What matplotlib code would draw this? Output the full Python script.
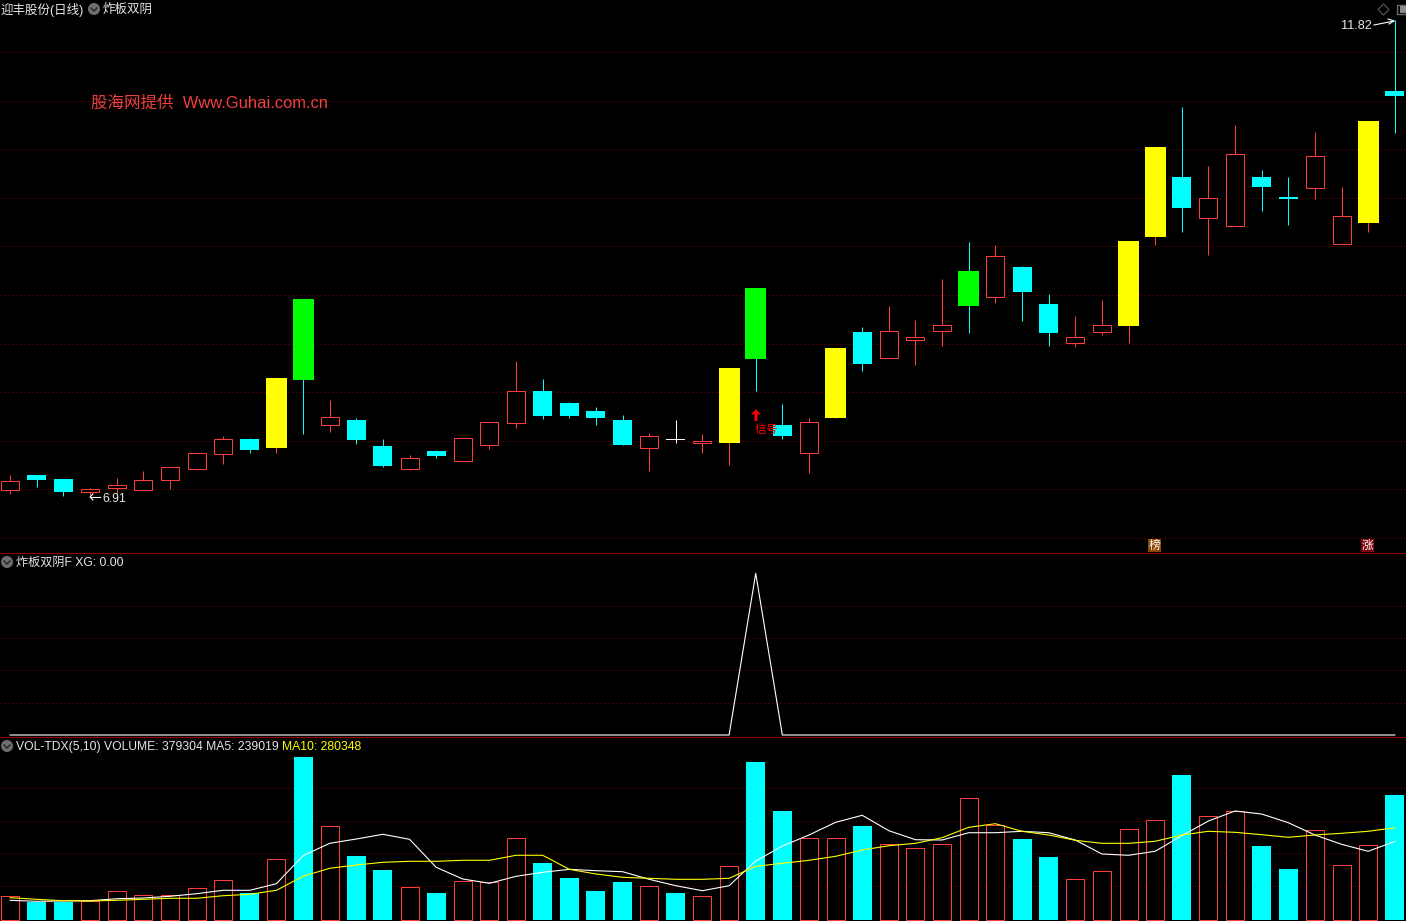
import matplotlib
matplotlib.use("Agg")
import matplotlib.pyplot as plt
from matplotlib.patches import Circle, Polygon, Rectangle

W, H = 1406, 921
FONT = ['Liberation Sans', 'Noto Sans CJK SC', 'DejaVu Sans']
RED = '#ff3c3c'
CYAN = '#00ffff'
GRID = '#8c0000'

# r hollow up, c cyan down, y yellow limit up, g green, w flat
kinds = ['r','c','c','r','r','r','r','r','r','c','y','g','r','c','c','r','c','r','r','r',
         'c','c','c','c','r','w','r','y','g','c','r','y','c','r','r','r','g','r','c','c',
         'r','r','y','y','c','r','r','c','c','r','r','y','c']
highs = [7.14,7.14,7.10,7.00,7.11,7.18,7.22,7.36,7.54,7.52,8.14,8.95,7.91,7.72,7.51,7.34,7.39,7.52,7.68,8.31,
         8.12,7.89,7.84,7.75,7.57,7.70,7.56,8.24,9.06,7.87,7.72,8.44,8.66,8.88,8.73,9.15,9.535,9.50,9.29,9.00,
         8.77,8.94,9.545,10.51,10.925,10.32,10.74,10.28,10.20,10.67,10.10,10.78,11.82]
tops = [7.07,7.14,7.10,6.99,7.03,7.09,7.22,7.36,7.51,7.51,8.14,8.95,7.73,7.70,7.44,7.31,7.38,7.52,7.68,8.00,
        8.00,7.88,7.80,7.70,7.54,7.51,7.485,8.24,9.06,7.65,7.68,8.44,8.61,8.62,8.56,8.68,9.24,9.39,9.28,8.90,
        8.56,8.68,9.545,10.51,10.20,9.99,10.44,10.20,10.00,10.42,9.80,10.78,11.09]
bottoms = [6.98,7.09,6.96,6.96,7.00,6.98,7.09,7.20,7.35,7.39,7.41,8.11,7.65,7.50,7.23,7.20,7.33,7.28,7.45,7.67,
           7.74,7.74,7.72,7.45,7.41,7.50,7.47,7.47,8.33,7.54,7.36,7.72,8.28,8.34,8.53,8.62,8.88,8.97,9.02,8.60,
           8.50,8.61,8.67,9.59,9.885,9.78,9.70,10.10,9.98,10.09,9.51,9.73,11.04]
lows = [6.94,7.01,6.92,6.91,6.95,6.98,6.99,7.20,7.25,7.36,7.36,7.56,7.58,7.46,7.22,7.19,7.31,7.28,7.40,7.62,
        7.71,7.72,7.65,7.45,7.18,7.47,7.36,7.24,8.00,7.51,7.16,7.72,8.21,8.34,8.27,8.46,8.60,8.91,8.72,8.46,
        8.45,8.58,8.50,9.50,9.64,9.40,9.70,9.85,9.71,9.98,9.51,9.64,10.66]
price_grid = [6.49,6.99,7.49,7.99,8.49,8.99,9.49,9.99,10.49,10.99,11.49]

xg = [0]*28 + [1] + [0]*24
xg_grid = [0.2,0.4,0.6,0.8]

volumes = [72700,56400,56400,59400,87900,75800,75800,97000,121200,82700,184800,494800,284800,194800,152400,100000,82700,118200,115100,248500,
           173600,128200,88800,116000,103000,82700,72700,163600,479600,331200,248500,248500,285700,230300,218200,230300,369700,287900,245400,190900,
           124200,148500,275700,303000,439400,315100,330300,224200,154500,272700,166700,227300,379304]
vol_up = ['r','c','c','r','r','r','r','r','r','c','r','c','r','c','c','r','c','r','r','r',
          'c','c','c','c','r','c','r','r','c','c','r','r','c','r','r','r','r','r','c','c',
          'r','r','r','r','c','r','r','c','c','r','r','r','c']
ma5 = [60600,57600,58500,59400,65400,67600,72700,80600,90900,90900,110900,195700,233300,246300,260600,245400,160600,125100,112100,133300,
       145400,154500,150300,147300,124200,104800,89700,104800,179700,225100,258500,296900,318200,271500,244200,243300,265400,265400,269700,265400,
       243300,200900,197000,209100,256300,300900,331200,322100,295700,258500,230300,209100,239019]
ma10 = [68500,63600,59400,58500,60600,63600,66700,66700,74500,78800,90900,133300,157600,167600,175700,178800,178800,181800,181800,197000,
        197000,154500,140300,130300,127300,124200,124200,127300,163600,172700,181800,193900,213000,226000,233300,250300,281800,292700,269700,258500,
        242400,233300,233300,239400,258500,269700,266600,259400,251500,258500,263600,269700,280348]
vol_grid = [103000,203000,300000,400000]

x = list(range(len(kinds)))
XLIM = (-0.38, 52.42)
BAR_PX = 26.63


def panel(y0, y1, ylim):
    ax = fig.add_axes([0, 1 - y1 / H, 1, (y1 - y0) / H])
    ax.set_facecolor('black')
    ax.set_xlim(XLIM)
    ax.set_ylim(ylim)
    ax.axis('off')
    return ax


def grid(ax, levels):
    ax.hlines(levels, XLIM[0], XLIM[1], color=GRID, lw=0.72, linestyles=[(0, (1, 3))], zorder=1)


def label(px, py, s, size=9, color='#e6e6e6'):
    ui.text(px, py, s, fontsize=size, color=color, family=FONT, va='center', ha='left')


def fold_icon(px, py):
    ui.add_patch(Circle((px, py), 6, color='#6e6e6e', lw=0))
    ui.plot([px - 3, px, px + 3], [py - 1, py + 2, py - 1], color='#222222', lw=1)


fig = plt.figure(figsize=(W / 100, H / 100), dpi=100, facecolor='black')

# price panel
ax_price = panel(0, 553, (6.334, 12.026))
grid(ax_price, price_grid)
body_cols = {'c': CYAN, 'y': '#ffff00', 'g': '#00ff00', 'w': '#ffffff'}
wick_cols = {'r': RED, 'c': CYAN, 'y': RED, 'g': CYAN, 'w': '#ffffff'}
for i in x:
    k = kinds[i]
    ax_price.vlines(i, lows[i], highs[i], color=wick_cols[k], lw=0.72, zorder=2)
    h = tops[i] - bottoms[i]
    if k == 'r':
        ax_price.bar(i, h, bottom=bottoms[i], width=18 / BAR_PX, facecolor='black', edgecolor=RED,
                     lw=0.72, zorder=3)
    else:
        wpx = 21 if k in 'yg' else 19
        ax_price.bar(i, h, bottom=bottoms[i], width=wpx / BAR_PX, color=body_cols[k], lw=0,
                     zorder=3, antialiased=False)

# signal panel
ax_xg = panel(554, 737, (-0.0123, 1.12))
grid(ax_xg, xg_grid)
ax_xg.plot(x, xg, color='white', lw=0.8, zorder=3)

# volume panel
ax_vol = panel(737, 921, (-2100, 555400))
grid(ax_vol, vol_grid)
for i in x:
    if vol_up[i] == 'r':
        ax_vol.bar(i, volumes[i], width=18 / BAR_PX, facecolor='black', edgecolor=RED, lw=0.72, zorder=3)
    else:
        ax_vol.bar(i, volumes[i], width=19 / BAR_PX, color=CYAN, lw=0, zorder=3, antialiased=False)
ax_vol.plot(x, ma5, color='white', lw=0.8, zorder=4)
ax_vol.plot(x, ma10, color='#ffff00', lw=0.8, zorder=4)

# everything drawn on top, in screen pixels
ui = fig.add_axes([0, 0, 1, 1])
ui.set_xlim(0, W)
ui.set_ylim(H, 0)
ui.axis('off')
ui.patch.set_alpha(0)
ui.plot([0, W], [553, 553], color=GRID, lw=0.8)
ui.plot([0, W], [737, 737], color=GRID, lw=0.8)

label(1, 10, '迎丰股份(日线)')
fold_icon(94, 9)
label(103, 10, '炸板双阴')
label(91, 103, '股海网提供  Www.Guhai.com.cn', size=11.9, color='#f04040')
fold_icon(7, 562)
label(16, 563, '炸板双阴F XG: 0.00', size=8.7)
fold_icon(7, 746)
label(16, 746.5, 'VOL-TDX(5,10) VOLUME: 379304 MA5: 239019', size=8.7)
label(282, 746.5, 'MA10: 280348', size=8.7, color='#ffff00')

# high / low marks
label(102, 499, '6.91', size=8.8)
ui.plot([90, 100], [497, 497], color='white', lw=0.8)
ui.plot([93, 90, 93], [494, 497, 500], color='white', lw=0.8)
label(1341, 26, '11.82', size=9.2)
ui.plot([1374, 1394], [25, 21], color='white', lw=0.8)
ui.plot([1388, 1394, 1389], [19, 21, 24], color='white', lw=0.8)

# signal mark
ui.add_patch(Polygon([(756, 409), (761, 415), (757.5, 414), (757.5, 421), (754.5, 421), (754.5, 414), (751, 415)],
                     color='#ff0000', lw=0))
label(755, 431, '信号', size=8.5, color='#ff0000')

# badges
ui.add_patch(Rectangle((1148, 539), 13, 13, color='#8a4500', lw=0))
ui.text(1154.5, 545.5, '榜', fontsize=8.5, color='white', family=FONT, ha='center', va='center')
ui.add_patch(Rectangle((1361, 539), 13, 13, color='#800010', lw=0))
ui.text(1367.5, 545.5, '涨', fontsize=8.5, color='white', family=FONT, ha='center', va='center')

# window icons
ui.add_patch(Polygon([(1383.5, 4), (1389, 9.5), (1383.5, 15), (1378, 9.5)], fill=False, edgecolor='#5a5a5a', lw=0.8))
ui.add_patch(Rectangle((1396.5, 5), 12, 9, fill=False, edgecolor='#6a6a6a', lw=1))
ui.add_patch(Rectangle((1400, 6), 6, 7, color='#8a8a8a', lw=0))

fig.savefig('out.png', dpi=100, facecolor='black')
